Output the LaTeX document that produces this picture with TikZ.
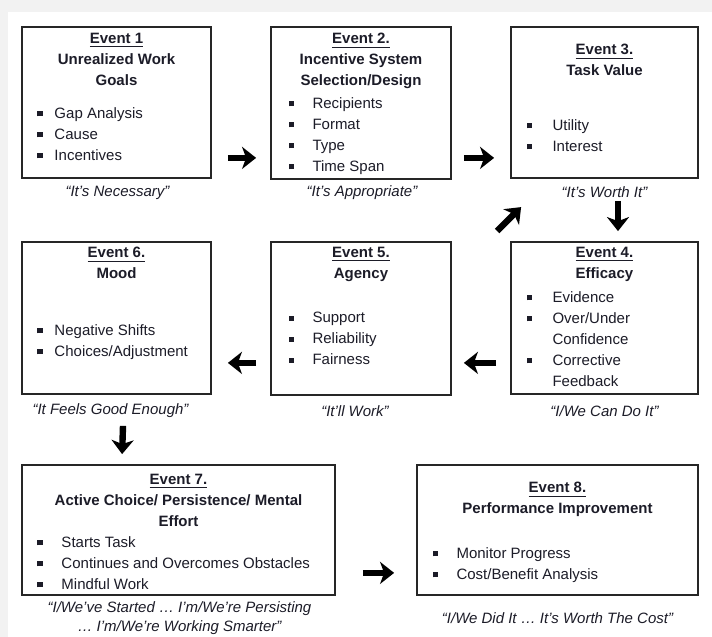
\documentclass[tikz,border=0pt]{standalone}
\usepackage{fontspec}
\setmainfont{Liberation Sans}
\usetikzlibrary{arrows.meta, calc}
\definecolor{bgGry}{HTML}{F2F2F2}
\definecolor{boxDraw}{HTML}{262626}
\definecolor{txt}{HTML}{1C1C28}
\newcommand{\sqb}[1]{\makebox[#1][l]{\rule[1pt]{2.6pt}{2.6pt}}}

\begin{document}
\begin{tikzpicture}[x=0.5pt, y=-0.5pt,
  font=\fontsize{7.5}{10.5}\selectfont,
  evbox/.style={rectangle, draw=boxDraw, line width=0.9pt, inner sep=0pt},
  ttl/.style={anchor=north, align=center, inner sep=0pt, text=txt,
              font=\fontsize{7.5}{10.5}\selectfont\bfseries},
  lst/.style={anchor=north west, align=left, inner sep=0pt, text=txt},
  quot/.style={align=center, inner sep=0pt, text=txt,
               font=\fontsize{7.5}{9.5}\selectfont\itshape},
  bigarr/.style={-{Stealth[length=7pt,width=11pt,inset=2pt]}, line width=3.2pt},
]

% ---- page ----
\fill[bgGry] (0,0) rectangle (712,637);
\fill[white] (8,12) rectangle (712,637);
\useasboundingbox (0,0) rectangle (712,637);

% ---- Event boxes ----
\node[evbox, minimum width=94.5pt, minimum height=75.5pt] (ev1) at (116.5,102.5) {};
\node[evbox, minimum width=90pt,   minimum height=76pt]   (ev2) at (361,103) {};
\node[evbox, minimum width=93.5pt, minimum height=75.5pt] (ev3) at (604.5,102.5) {};
\node[evbox, minimum width=93.5pt, minimum height=76pt]   (ev4) at (604.5,318) {};
\node[evbox, minimum width=90pt,   minimum height=76.5pt] (ev5) at (361,318.5) {};
\node[evbox, minimum width=94.5pt, minimum height=76pt]   (ev6) at (116.5,318) {};
\node[evbox, minimum width=156.5pt, minimum height=65pt]  (ev7) at (178.5,530) {};
\node[evbox, minimum width=140.5pt, minimum height=65pt]  (ev8) at (557.5,530) {};

% ---- Event 1 ----
\node[ttl] (t1) at ($(ev1.north)+(0,7)$) {\underline{Event 1}\\Unrealized Work\\Goals};
\node[lst] (l1) at ($(ev1.north west)+(16,81)$)
   {\sqb{8.5pt}Gap Analysis\\\sqb{8.5pt}Cause\\\sqb{8.5pt}Incentives};
\node[quot] (q1) at ($(ev1.south)+(1,14)$) {``It's Necessary''};

% ---- Event 2 ----
\node[ttl] (t2) at ($(ev2.north)+(0,7)$) {\underline{Event 2.}\\Incentive System\\Selection/Design};
\node[lst] (l2) at ($(ev2.north west)+(18,71)$)
   {\sqb{12pt}Recipients\\\sqb{12pt}Format\\\sqb{12pt}Type\\\sqb{12pt}Time Span};
\node[quot] (q2) at ($(ev2.south)+(1,13)$) {``It's Appropriate''};

% ---- Event 3 ----
\node[ttl] (t3) at ($(ev3.north)+(0,18)$) {\underline{Event 3.}\\Task Value};
\node[lst] (l3) at ($(ev3.north west)+(16,93)$)
   {\sqb{13pt}Utility\\\sqb{13pt}Interest};
\node[quot] (q3) at ($(ev3.south)+(0,13)$) {``It's Worth It''};

% ---- Event 4 ----
\node[ttl] (t4) at ($(ev4.north)+(0,6)$) {\underline{Event 4.}\\Efficacy};
\node[lst] (l4) at ($(ev4.north west)+(16,50)$)
   {\sqb{13pt}Evidence\\\sqb{13pt}Over/Under\\\hspace*{13pt}Confidence\\
    \sqb{13pt}Corrective\\\hspace*{13pt}Feedback};
\node[quot] (q4) at ($(ev4.south)+(0,16)$) {``I/We Can Do It''};

% ---- Event 5 ----
\node[ttl] (t5) at ($(ev5.north)+(0,6)$) {\underline{Event 5.}\\Agency};
\node[lst] (l5) at ($(ev5.north west)+(18,71)$)
   {\sqb{12pt}Support\\\sqb{12pt}Reliability\\\sqb{12pt}Fairness};
\node[quot] (q5) at ($(ev5.south)+(-6,15)$) {``It'll Work''};

% ---- Event 6 ----
\node[ttl] (t6) at ($(ev6.north)+(0,6)$) {\underline{Event 6.}\\Mood};
\node[lst] (l6) at ($(ev6.north west)+(16,83)$)
   {\sqb{8.5pt}Negative Shifts\\\sqb{8.5pt}Choices/Adjustment};
\node[quot] (q6) at ($(ev6.south)+(-6,16)$) {``It Feels Good Enough''};

% ---- Event 7 ----
\node[ttl] (t7) at ($(ev7.north)+(0,10)$)
   {\underline{Event 7.}\\Active Choice/ Persistence/ Mental\\Effort};
\node[lst] (l7) at ($(ev7.north west)+(16,72)$)
   {\sqb{12pt}Starts Task\\\sqb{12pt}Continues and Overcomes Obstacles\\\sqb{12pt}Mindful Work};
\node[quot] (q7) at ($(ev7.south)+(1,22)$)
   {``I/We've Started \ldots\ I'm/We're Persisting\\\ldots\ I'm/We're Working Smarter''};

% ---- Event 8 ----
\node[ttl] (t8) at ($(ev8.north)+(0,18)$) {\underline{Event 8.}\\Performance Improvement};
\node[lst] (l8) at ($(ev8.north west)+(16,83)$)
   {\sqb{12pt}Monitor Progress\\\sqb{12pt}Cost/Benefit Analysis};
\node[quot] (q8) at ($(ev8.south)+(0,22)$) {``I/We Did It \ldots\ It's Worth The Cost''};

% ---- Arrows ----
\draw[bigarr] ($(ev1.south east)+(16,-21)$) -- ($(ev2.south west)+(-14,-22)$);
\draw[bigarr] ($(ev2.south east)+(12,-22)$) -- ($(ev3.south west)+(-16,-21)$);
\draw[bigarr] ($(ev3.south)+(13.5,22)$) -- ($(ev4.north)+(13.5,-10)$);
\draw[bigarr] ($(ev4.north west)+(-13,-10)$) -- ($(ev4.north west)+(11,-34)$);
\draw[bigarr] ($(ev4.south west)+(-14,-32)$) -- ($(ev5.south east)+(12,-33)$);
\draw[bigarr] ($(ev5.south west)+(-14,-33)$) -- ($(ev6.south east)+(16,-32)$);
\draw[bigarr] ($(ev6.south)+(6.5,31)$) -- ($(ev7.north west)+(101,-10)$);
\draw[bigarr] ($(ev7.south east)+(27,-23)$) -- ($(ev8.south west)+(-22,-23)$);

\end{tikzpicture}
\end{document}
